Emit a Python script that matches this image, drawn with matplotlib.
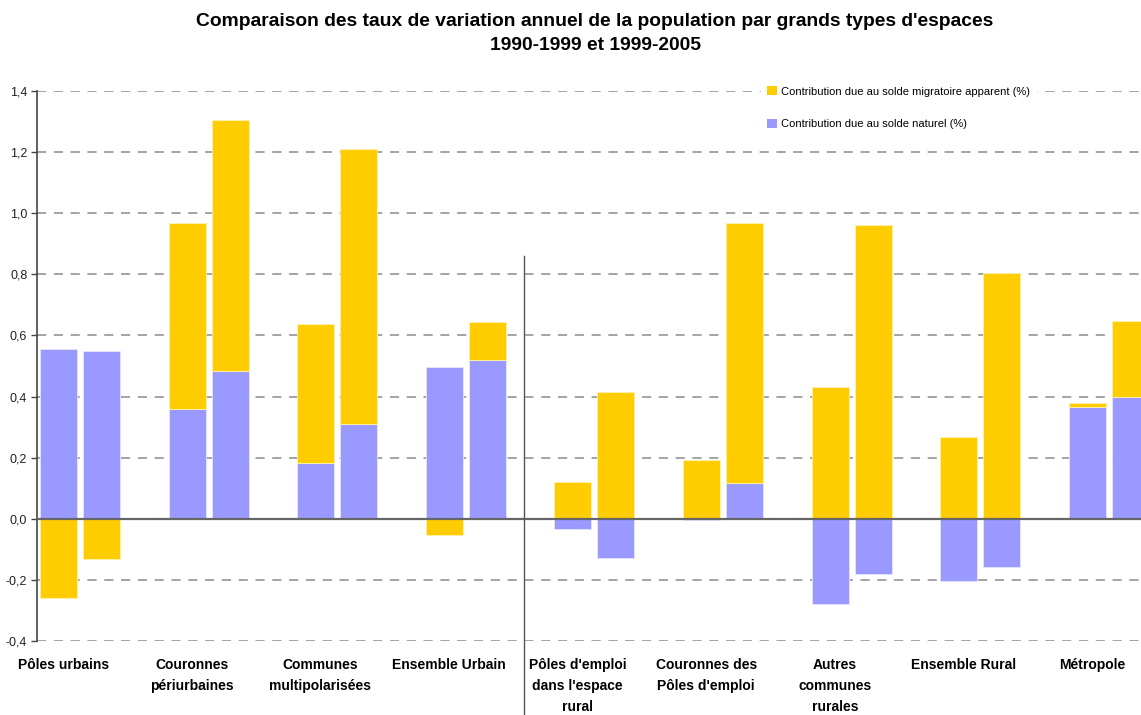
import numpy as np
import matplotlib
matplotlib.use("Agg")
import matplotlib.pyplot as plt
from matplotlib.patches import Patch

categories = ["Pôles urbains", "Couronnes\npériurbaines", "Communes\nmultipolarisées",
              "Ensemble Urbain", "Pôles d'emploi\ndans l'espace\nrural", "Couronnes des\nPôles d'emploi",
              "Autres\ncommunes\nrurales", "Ensemble Rural", "Métropole"]
# 1990-1999
naturel_1 = [0.556, 0.360, 0.183, 0.497, -0.033, -0.004, -0.278, -0.202, 0.367]
migratoire_1 = [-0.258, 0.607, 0.454, -0.052, 0.121, 0.193, 0.432, 0.269, 0.011]
# 1999-2005
naturel_2 = [0.550, 0.485, 0.309, 0.520, -0.128, 0.117, -0.180, -0.158, 0.399]
migratoire_2 = [-0.131, 0.820, 0.901, 0.125, 0.415, 0.850, 0.962, 0.805, 0.249]

YELLOW, LILAC = "#FFCC00", "#9999FF"
W, H = 1141, 715

fig = plt.figure(figsize=(W / 100, H / 100), dpi=100)
ax = fig.add_axes([37 / W, (H - 641) / H, (W - 37) / W, (641 - 91) / H])

x = np.arange(len(categories))
bw, off = 0.288, 0.167
for xs, nat, mig in [(x - off, naturel_1, migratoire_1), (x + off, naturel_2, migratoire_2)]:
    nat = np.array(nat); mig = np.array(mig)
    mig_bottom = np.where(mig >= 0, np.maximum(nat, 0), np.minimum(nat, 0))
    ax.bar(xs, nat, bw, color=LILAC, edgecolor="#e6e6ff", lw=0.6, zorder=2)
    ax.bar(xs, mig, bw, bottom=mig_bottom, color=YELLOW, edgecolor="#fff2b0", lw=0.6, zorder=2)

ax.set_xlim(-0.334, 8.25)
ax.set_ylim(-0.4, 1.4)
yt = np.arange(-0.4, 1.41, 0.2)
ax.set_yticks(yt)
ax.set_yticklabels([f"{v:.1f}".replace(".", ",").replace("-0,0", "0,0") for v in yt],
                   fontsize=9, family="Liberation Sans", color="#222")
for v in yt:
    if abs(v) > 1e-9:
        ax.axhline(v, color="#8c8c8c", lw=1.1, ls=(0, (6, 5)), zorder=1)
ax.axhline(0, color="#666666", lw=1.6, zorder=3)

ax.set_xticks(x - 0.13)
ax.set_xticklabels(categories, fontsize=10, fontweight="bold", family="Liberation Sans",
                   linespacing=1.65, va="top")
ax.tick_params(axis="x", length=0, pad=12)
ax.tick_params(axis="y", direction="out", length=4, width=1, color="#444", pad=3)
for s in ["top", "right", "bottom"]:
    ax.spines[s].set_visible(False)
ax.spines["left"].set_color("#444")
ax.spines["left"].set_linewidth(1.2)

# separator between urban and rural spaces
ax.plot([3.45, 3.45], [0.86, -0.642], color="#555", lw=1, clip_on=False, zorder=4)

leg = ax.legend(handles=[Patch(fc=YELLOW, ec="none", label="Contribution due au solde migratoire apparent (%)"),
                         Patch(fc=LILAC, ec="none", label="Contribution due au solde naturel (%)")],
                loc="upper left", bbox_to_anchor=(755 / W, 1 - 74 / H), bbox_transform=fig.transFigure,
                frameon=True, facecolor="white", edgecolor="white", framealpha=1,
                prop={"family": "Liberation Sans", "size": 8},
                handlelength=0.9, handleheight=0.9, handletextpad=0.3, labelspacing=2.0,
                borderpad=0.6, fancybox=False)
leg.set_zorder(5)

fig.text(595 / W, 1 - 22 / H, "Comparaison des taux de variation annuel de la population par grands types d'espaces",
         ha="center", va="center", fontsize=13.9, fontweight="bold", family="Liberation Sans")
fig.text(595 / W, 1 - 46 / H, "1990-1999 et 1999-2005",
         ha="center", va="center", fontsize=13.9, fontweight="bold", family="Liberation Sans")

fig.savefig("out.png", dpi=100, facecolor="white")
